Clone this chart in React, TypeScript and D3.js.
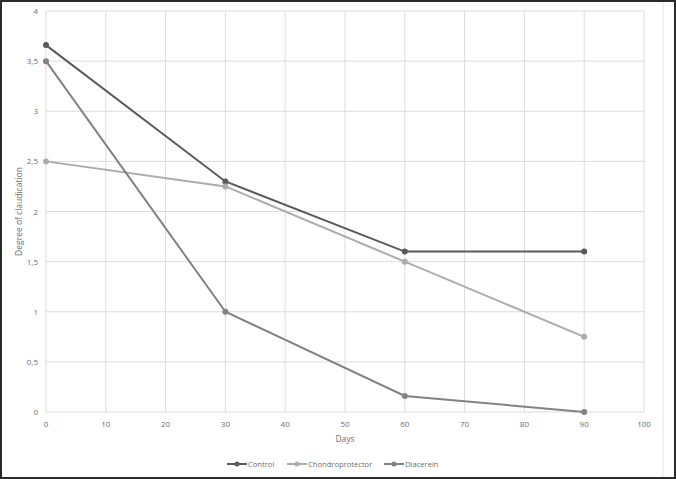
import * as d3 from "d3";
import { useEffect, useRef } from "react";

const days = [0, 30, 60, 90];
const control = [3.66, 2.3, 1.6, 1.6];
const chondro = [2.5, 2.25, 1.5, 0.75];
const diacerein = [3.5, 1.0, 0.16, 0];
const seriesNames = ["Control", "Chondroprotector", "Diacerein"];
const seriesColors = ["#5a5a5a", "#acacac", "#828282"];
const xTicks = [0, 10, 20, 30, 40, 50, 60, 70, 80, 90, 100];
const yTicks = [0, 0.5, 1, 1.5, 2, 2.5, 3, 3.5, 4];

const width = 676;
const height = 479;
const marginLeft = 46;
const marginRight = 32;
const marginTop = 11;
const marginBottom = 67;

export default function App() {
  const ref = useRef<SVGSVGElement>(null);

  useEffect(() => {
    const svg = d3.select(ref.current);
    svg.selectAll("*").remove();

    const x = d3.scaleLinear().domain([0, 100]).range([marginLeft, width - marginRight]);
    const y = d3.scaleLinear().domain([0, 4]).range([height - marginBottom, marginTop]);
    const font = "'Open Sans', sans-serif";
    const textColor = "#6e6e6e";

    svg.append("rect").attr("width", width).attr("height", height).attr("fill", "white");

    // grid
    svg
      .append("g")
      .selectAll("line")
      .data(yTicks)
      .join("line")
      .attr("x1", x(0))
      .attr("x2", x(100))
      .attr("y1", (d) => y(d))
      .attr("y2", (d) => y(d))
      .attr("stroke", "#dcdcdc");
    svg
      .append("g")
      .selectAll("line")
      .data(xTicks)
      .join("line")
      .attr("x1", (d) => x(d))
      .attr("x2", (d) => x(d))
      .attr("y1", y(4))
      .attr("y2", y(0))
      .attr("stroke", "#dcdcdc");

    // tick labels
    svg
      .append("g")
      .selectAll("text")
      .data(yTicks)
      .join("text")
      .attr("x", marginLeft - 8)
      .attr("y", (d) => y(d) + 3)
      .attr("text-anchor", "end")
      .attr("font-family", font)
      .attr("font-size", 8)
      .attr("fill", textColor)
      .text((d) => String(d).replace(".", ","));
    svg
      .append("g")
      .selectAll("text")
      .data(xTicks)
      .join("text")
      .attr("x", (d) => x(d))
      .attr("y", y(0) + 15)
      .attr("text-anchor", "middle")
      .attr("font-family", font)
      .attr("font-size", 8)
      .attr("fill", textColor)
      .text((d) => d);

    svg
      .append("text")
      .attr("x", x(50))
      .attr("y", y(0) + 30)
      .attr("text-anchor", "middle")
      .attr("font-family", font)
      .attr("font-size", 8.5)
      .attr("fill", textColor)
      .text("Days");
    svg
      .append("text")
      .attr("transform", `translate(22,${y(2)}) rotate(-90)`)
      .attr("text-anchor", "middle")
      .attr("font-family", font)
      .attr("font-size", 8.5)
      .attr("fill", textColor)
      .text("Degree of claudication");

    const series = [control, chondro, diacerein];
    const line = d3
      .line<number>()
      .x((_, i) => x(days[i]))
      .y((d) => y(d));

    series.forEach((vals, si) => {
      const g = svg.append("g");
      g.append("path")
        .attr("d", line(vals))
        .attr("fill", "none")
        .attr("stroke", seriesColors[si])
        .attr("stroke-width", 2);
      g.selectAll("circle")
        .data(vals)
        .join("circle")
        .attr("cx", (_, i) => x(days[i]))
        .attr("cy", (d) => y(d))
        .attr("r", 3)
        .attr("fill", seriesColors[si]);
    });

    // legend
    const legendX = [227, 287, 384];
    const legendY = 464;
    seriesNames.forEach((name, i) => {
      const g = svg.append("g").attr("transform", `translate(${legendX[i]},${legendY})`);
      g.append("line")
        .attr("x1", 0)
        .attr("x2", 20)
        .attr("stroke", seriesColors[i])
        .attr("stroke-width", 2);
      g.append("circle").attr("cx", 10).attr("r", 2.5).attr("fill", seriesColors[i]);
      g.append("text")
        .attr("x", 21)
        .attr("y", 3)
        .attr("font-family", font)
        .attr("font-size", 7.6)
        .attr("fill", textColor)
        .text(name);
    });

    // frame
    svg
      .append("line")
      .attr("x1", 663)
      .attr("x2", 663)
      .attr("y1", 2)
      .attr("y2", height - 2)
      .attr("stroke", "#e2e2e2");
    svg
      .append("rect")
      .attr("x", 1)
      .attr("y", 1)
      .attr("width", width - 2)
      .attr("height", height - 2)
      .attr("fill", "none")
      .attr("stroke", "#2b2b2b")
      .attr("stroke-width", 2);
  }, []);

  return (
    <svg
      ref={ref}
      width={width}
      height={height}
      style={{ position: "absolute", left: 0, top: 0, display: "block" }}
    />
  );
}
